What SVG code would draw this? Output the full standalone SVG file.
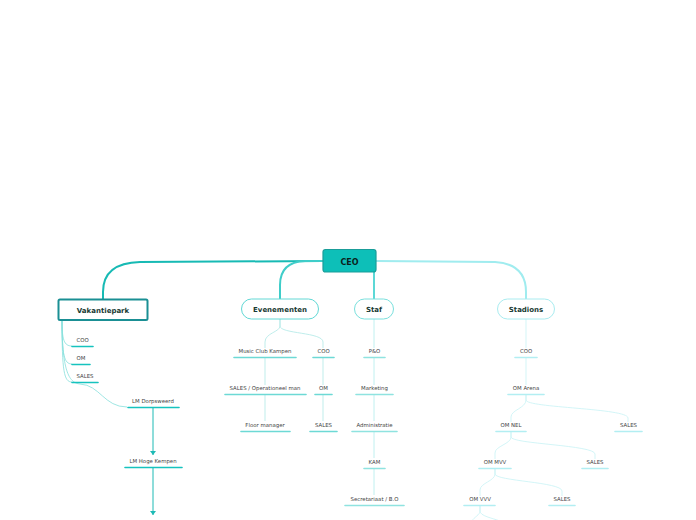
<svg xmlns="http://www.w3.org/2000/svg" width="696" height="520" viewBox="0 0 696 520">
<defs>
<style>
.lbl{font-family:"DejaVu Sans",Verdana,sans-serif;font-size:5.4px;fill:#444444;text-anchor:middle}
.nl{font-family:"DejaVu Sans",Verdana,sans-serif;font-size:7px;font-weight:bold;fill:#173a33;text-anchor:middle}
.c{fill:none;stroke-linecap:round}
.u1{stroke:#16c3be;stroke-width:1.6}
.u2{stroke:#6dd9d5;stroke-width:1.6}
.u3{stroke:#8fe3e0;stroke-width:1.6}
.u4{stroke:#b2eef2;stroke-width:1.6}
</style>
<marker id="ah" viewBox="0 0 4 6" refX="4" refY="3" markerWidth="4" markerHeight="6" markerUnits="userSpaceOnUse" orient="auto">
<path d="M0,0 L4,3 L0,6 Z" fill="#1dbab5"/>
</marker>
</defs>
<rect width="696" height="520" fill="#ffffff"/>
<g id="connectors">
<path class="c" d="M323,261 L140,262 Q103,263 103,292 L103,299" stroke="#17bab4" stroke-width="2"/>
<path class="c" d="M323,261 L305,261 Q280,262 280,285 L280,299" stroke="#3fcdc9" stroke-width="2"/>
<path class="c" d="M374,272 L374,299" stroke="#5cd8d6" stroke-width="2"/>
<path class="c" d="M376,261 L495,262 Q526,264 526,292 L526,299" stroke="#a0ecef" stroke-width="2"/>
<g stroke="#86e0dc" stroke-width="0.8" fill="none">
<path d="M62,320 C62,340 64,346 72,346"/>
<path d="M62,320 C62,355 64,364 72,364"/>
<path d="M62,320 C62,372 64,382 72,382"/>
<path d="M62,320 C62,374 70,383 80,384 C100,385 104,407 127,407"/>
</g>
<g stroke="#aee8e6" stroke-width="0.8" fill="none">
<path d="M280,319 L280,326 C280,332 265,333 265,342 L265,348"/>
<path d="M280,319 L280,326 C280,334 323,332 323,342 L323,348"/>
<path d="M265,358 L265,385"/>
<path d="M265,395 L265,421"/>
<path d="M323,358 L323,385"/>
<path d="M323,395 L323,421"/>
</g>
<g stroke="#b0ecec" stroke-width="0.8" fill="none">
<path d="M374,319 L374,348"/>
<path d="M374,358 L374,385"/>
<path d="M374,395 L374,421"/>
<path d="M374,432 L374,458"/>
<path d="M374,469 L374,495"/>
</g>
<g stroke="#c8f3f5" stroke-width="0.8" fill="none">
<path d="M526,319 L526,348"/>
<path d="M526,358 L526,385"/>
<path d="M526,395 L526,400 C526,408 511,410 511,417 L511,422"/>
<path d="M526,395 L526,400 C526,408 628,408 628,418 L628,422"/>
<path d="M511,432 L511,437 C511,444 495,446 495,453 L495,459"/>
<path d="M511,432 L511,437 C511,444 595,445 595,454 L595,459"/>
<path d="M495,469 L495,474 C495,481 480,483 480,490 L480,496"/>
<path d="M495,469 L495,474 C495,481 562,482 562,491 L562,496"/>
<path d="M480,506 L480,511 C480,515 474,517 472,521"/>
<path d="M480,506 L480,511 C480,516 492,518 500,521"/>
</g>
<path d="M153,408 L153,455" stroke="#1dbab5" stroke-width="1" fill="none" marker-end="url(#ah)"/>
<path d="M153,468 L153,515" stroke="#1dbab5" stroke-width="1" fill="none" marker-end="url(#ah)"/>
</g>
<g id="ceo">
<rect x="323" y="249.5" width="53" height="22.5" rx="2.5" fill="#0dbfb8" stroke="#1a9d99" stroke-width="1.2"/>
<text class="nl" x="349.5" y="264.5" style="font-size:8px;fill:#0b1f1c">CEO</text>
</g>
<g id="vakantiepark">
<rect x="58.5" y="299.5" width="89" height="20.5" rx="1.5" fill="#ffffff" stroke="#1a8f94" stroke-width="2"/>
<text class="nl" x="103" y="312.5">Vakantiepark</text>
</g>
<g id="evenementen">
<rect x="241.5" y="299" width="77" height="20" rx="10" fill="#ffffff" stroke="#62d8d5" stroke-width="1"/>
<text class="nl" x="280" y="312">Evenementen</text>
</g>
<g id="staf">
<rect x="354.5" y="299" width="39" height="20" rx="10" fill="#ffffff" stroke="#7ae0dd" stroke-width="1"/>
<text class="nl" x="374" y="312">Staf</text>
</g>
<g id="stadions">
<rect x="497.5" y="299" width="57" height="20" rx="10" fill="#ffffff" stroke="#a9ecf0" stroke-width="1"/>
<text class="nl" x="526" y="312">Stadions</text>
</g>
<g id="v-coo"><text class="lbl" x="82.5" y="342">COO</text><path class="c u1" d="M72,346.5 L93,346.5"/></g>
<g id="v-om"><text class="lbl" x="81" y="360">OM</text><path class="c u1" d="M72,364.5 L90,364.5"/></g>
<g id="v-sales"><text class="lbl" x="85" y="378">SALES</text><path class="c u1" d="M72,382.5 L98,382.5"/></g>
<g id="lm-dorpsweerd"><text class="lbl" x="153" y="403">LM Dorpsweerd</text><path class="c u1" d="M128,407.5 L179,407.5"/></g>
<g id="lm-hoge-kempen"><text class="lbl" x="153" y="463">LM Hoge Kempen</text><path class="c u1" d="M125,467.5 L182,467.5"/></g>
<g id="e-music"><text class="lbl" x="265" y="353">Music Club Kampen</text><path class="c u2" d="M234,357.5 L296,357.5"/></g>
<g id="e-coo"><text class="lbl" x="323.5" y="353">COO</text><path class="c u2" d="M313,357.5 L334,357.5"/></g>
<g id="e-sales-op"><text class="lbl" x="265" y="390">SALES / Operationeel man</text><path class="c u2" d="M225,394.5 L306,394.5"/></g>
<g id="e-om"><text class="lbl" x="323.5" y="390">OM</text><path class="c u2" d="M315,394.5 L332,394.5"/></g>
<g id="e-floor"><text class="lbl" x="265" y="427">Floor manager</text><path class="c u2" d="M241,431.5 L290,431.5"/></g>
<g id="e-sales"><text class="lbl" x="323.5" y="427">SALES</text><path class="c u2" d="M310,431.5 L337,431.5"/></g>
<g id="s-po"><text class="lbl" x="374.5" y="353">P&amp;O</text><path class="c u3" d="M364,357.5 L385,357.5"/></g>
<g id="s-marketing"><text class="lbl" x="374.5" y="390">Marketing</text><path class="c u3" d="M356,394.5 L393,394.5"/></g>
<g id="s-admin"><text class="lbl" x="374.5" y="427">Administratie</text><path class="c u3" d="M352,431.5 L397,431.5"/></g>
<g id="s-kam"><text class="lbl" x="374.5" y="464">KAM</text><path class="c u3" d="M364,468.5 L385,468.5"/></g>
<g id="s-secr"><text class="lbl" x="374.5" y="501">Secretariaat / B.O</text><path class="c u3" d="M345,505.5 L404,505.5"/></g>
<g id="st-coo"><text class="lbl" x="526" y="353">COO</text><path class="c u4" d="M515,357.5 L537,357.5"/></g>
<g id="st-om-arena"><text class="lbl" x="526" y="390">OM Arena</text><path class="c u4" d="M508,394.5 L544,394.5"/></g>
<g id="st-om-nel"><text class="lbl" x="511" y="427">OM NEL</text><path class="c u4" d="M496,431.5 L526,431.5"/></g>
<g id="st-sales1"><text class="lbl" x="628.5" y="427">SALES</text><path class="c u4" d="M615,431.5 L642,431.5"/></g>
<g id="st-om-mvv"><text class="lbl" x="495" y="464">OM MVV</text><path class="c u4" d="M479,468.5 L511,468.5"/></g>
<g id="st-sales2"><text class="lbl" x="595" y="464">SALES</text><path class="c u4" d="M582,468.5 L608,468.5"/></g>
<g id="st-om-vvv"><text class="lbl" x="480" y="501">OM VVV</text><path class="c u4" d="M464,505.5 L495,505.5"/></g>
<g id="st-sales3"><text class="lbl" x="562" y="501">SALES</text><path class="c u4" d="M549,505.5 L575,505.5"/></g>
</svg>
